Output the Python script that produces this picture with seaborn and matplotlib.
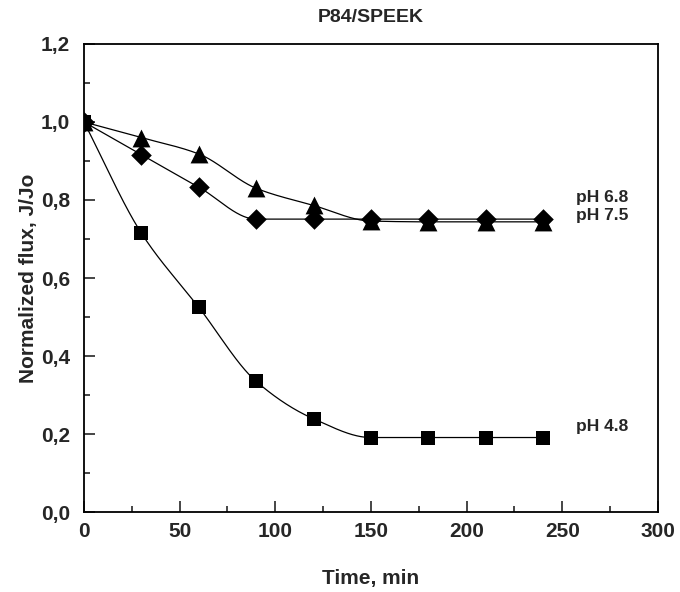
import numpy as np
import pandas as pd
import matplotlib
matplotlib.use("Agg")
import matplotlib.pyplot as plt
from matplotlib.ticker import MultipleLocator, FuncFormatter
import seaborn as sns

# ---- data ----
time_min = [0, 30, 60, 90, 120, 150, 180, 210, 240]
flux_ph48 = [1.0, 0.715, 0.525, 0.335, 0.239, 0.191, 0.191, 0.191, 0.191]
flux_ph68 = [1.0, 0.916, 0.833, 0.751, 0.751, 0.751, 0.751, 0.751, 0.751]
flux_ph75 = [1.0, 0.960, 0.918, 0.830, 0.786, 0.746, 0.744, 0.744, 0.744]
series_labels = ["pH 4.8", "pH 6.8", "pH 7.5"]
series_markers = ["s", "D", "^"]

title = "P84/SPEEK"
x_label = "Time, min"
y_label = "Normalized flux, J/Jo"


def pchip(x, y, xn):
    x = np.asarray(x, float)
    y = np.asarray(y, float)
    h = np.diff(x)
    d = np.diff(y) / h
    n = len(x)
    m = np.zeros(n)
    for k in range(1, n - 1):
        if d[k - 1] * d[k] > 0:
            w1 = 2 * h[k] + h[k - 1]
            w2 = h[k] + 2 * h[k - 1]
            m[k] = (w1 + w2) / (w1 / d[k - 1] + w2 / d[k])
        else:
            m[k] = 0.0
    m[0] = d[0]
    m[-1] = d[-1] if d[-1] * d[-2] > 0 else 0.0
    if abs(d[-1]) < 1e-12:
        m[-1] = 0.0
    idx = np.clip(np.searchsorted(x, xn) - 1, 0, n - 2)
    t = (xn - x[idx]) / h[idx]
    h00 = 2 * t**3 - 3 * t**2 + 1
    h10 = t**3 - 2 * t**2 + t
    h01 = -2 * t**3 + 3 * t**2
    h11 = t**3 - t**2
    return h00 * y[idx] + h10 * h[idx] * m[idx] + h01 * y[idx + 1] + h11 * h[idx] * m[idx + 1]


sns.set_theme(style="ticks")
plt.rcParams["font.family"] = ["Liberation Sans", "DejaVu Sans"]
plt.rcParams["font.weight"] = "bold"

fig = plt.figure(figsize=(6.8, 5.92), dpi=100)
ax = fig.add_axes([0.1235, 0.1351, 0.9676 - 0.1235, 0.9257 - 0.1351])

all_series = [flux_ph48, flux_ph68, flux_ph75]
xs = np.linspace(0, 240, 600)
for vals, lab, mk in zip(all_series, series_labels, series_markers):
    curve = pd.DataFrame({"t": xs, "f": pchip(time_min, vals, xs)})
    sns.lineplot(data=curve, x="t", y="f", ax=ax, color="black", lw=0.9,
                 zorder=2, legend=False)
    pts = pd.DataFrame({"t": time_min, "f": vals})
    size = 100 if mk == "s" else (110 if mk == "D" else 165)
    sns.scatterplot(data=pts, x="t", y="f", ax=ax, marker=mk, s=size,
                    color="black", edgecolor="black", linewidth=0,
                    zorder=3, legend=False)

ax.set_xlim(0, 300)
ax.set_ylim(0, 1.2)
ax.xaxis.set_major_locator(MultipleLocator(50))
ax.xaxis.set_minor_locator(MultipleLocator(25))
ax.yaxis.set_major_locator(MultipleLocator(0.2))
ax.yaxis.set_minor_locator(MultipleLocator(0.1))
ax.yaxis.set_major_formatter(FuncFormatter(lambda v, p: f"{v:.1f}".replace(".", ",")))

ax.tick_params(which="both", direction="in", top=False, right=False,
               labelsize=15, width=1.2)
ax.tick_params(axis="x", pad=7)
ax.tick_params(axis="y", pad=10)
ax.tick_params(which="major", length=8)
ax.tick_params(which="minor", length=4.5)
for lbl in ax.get_xticklabels() + ax.get_yticklabels():
    lbl.set_fontweight("bold")
for sp in ax.spines.values():
    sp.set_visible(True)
    sp.set_linewidth(1.3)
    sp.set_color("black")

ax.set_xlabel(x_label, fontsize=15, fontweight="bold", labelpad=20)
ax.set_ylabel(y_label, fontsize=15, fontweight="bold", labelpad=2)
ax.set_title(title, fontsize=14, fontweight="bold", pad=16)

ax.text(257, 0.806, series_labels[1], fontsize=12.5, fontweight="bold", va="center", ha="left")
ax.text(257, 0.760, series_labels[2], fontsize=12.5, fontweight="bold", va="center", ha="left")
ax.text(257, 0.218, series_labels[0], fontsize=12.5, fontweight="bold", va="center", ha="left")

fig.savefig("out.png", dpi=100, facecolor="white")
